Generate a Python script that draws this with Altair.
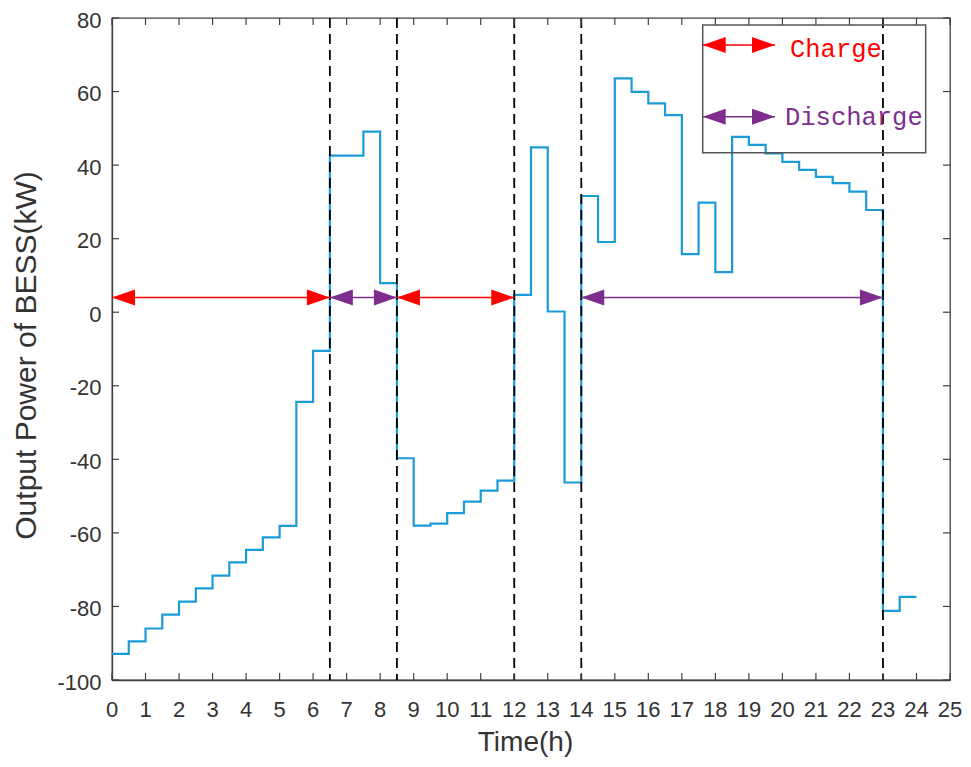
import altair as alt
import pandas as pd

# ---- data ----
step_time = [0, 0.5, 1, 1.5, 2, 2.5, 3, 3.5, 4, 4.5, 5, 5.5, 6, 6.5, 7, 7.5,
             8, 8.5, 9, 9.5, 10, 10.5, 11, 11.5, 12, 12.5, 13, 13.5, 14, 14.5,
             15, 15.5, 16, 16.5, 17, 17.5, 18, 18.5, 19, 19.5, 20, 20.5, 21,
             21.5, 22, 22.5, 23, 23.5, 24]
step_power = [-92.9, -89.5, -86.0, -82.2, -78.7, -75.1, -71.6, -68.0, -64.6,
              -61.2, -58.1, -24.4, -10.5, 42.6, 42.6, 49.1, 7.9, -39.7, -58.0,
              -57.5, -54.6, -51.5, -48.5, -45.8, 4.7, 44.8, 0.2, -46.3, 31.6,
              19.1, 63.6, 59.9, 56.8, 53.6, 15.8, 29.8, 10.9, 47.7, 45.5, 43.2,
              40.9, 38.7, 36.8, 35.1, 32.8, 27.8, -81.2, -77.4, -77.4]

boundary_times = [6.5, 8.5, 12, 14, 23]

period_start = [0, 6.5, 8.5, 14]
period_end = [6.5, 8.5, 12, 23]
period_kind = ["Charge", "Discharge", "Charge", "Discharge"]
arrow_level = 4

x_ticks = list(range(0, 26))
x_tick_labels = [str(v) for v in x_ticks]
y_ticks = [-100, -80, -60, -40, -20, 0, 20, 40, 60, 80]

kinds = ["Charge", "Discharge"]
kind_colors = ["#ff0000", "#7e2f8e"]

# ---- layout / style ----
W, H = 838, 662
PAD_L = 104
AX = "#404040"
LBL = "#333333"
LINE = "#1b9bd7"
TICK = 7
HEAD_R = "M0,0L-2,-0.7L-2,0.7Z"
HEAD_L = "M0,0L2,-0.7L2,0.7Z"
HEAD_SIZE = 529
MINUS_EXPR = "datum.value < 0 ? '-' + abs(datum.value) : '' + datum.value"

step_df = pd.DataFrame({"t": step_time, "p": step_power})
bound_df = pd.DataFrame({"b": boundary_times})
per_df = pd.DataFrame({"s": period_start, "e": period_end, "kind": period_kind,
                       "lvl": [arrow_level] * len(period_start)})
head_rows = []
for s, e, k in zip(period_start, period_end, period_kind):
    head_rows.append({"hx": s, "hy": arrow_level, "dir": "L", "kind": k})
    head_rows.append({"hx": e, "hy": arrow_level, "dir": "R", "kind": k})
head_df = pd.DataFrame(head_rows)
xt_df = pd.DataFrame({"v": x_ticks, "lab": x_tick_labels})
yt_df = pd.DataFrame({"v": y_ticks})
one = pd.DataFrame({"a": [0]})

xscale = alt.Scale(domain=[0, 25], nice=False, zero=False)
yscale = alt.Scale(domain=[-100, 80], nice=False, zero=False)
cscale = alt.Scale(domain=kinds, range=kind_colors)

line = alt.Chart(step_df).mark_line(
    interpolate="step-after", color=LINE, strokeWidth=2.2
).encode(
    x=alt.X("t:Q", scale=xscale, axis=alt.Axis(
        values=x_ticks, ticks=False, tickSize=0, grid=False, domainColor=AX,
        domainWidth=1.3, labels=False,
        title="Time(h)",
        titleFont="Liberation Sans", titleFontSize=28, titleFontWeight="normal",
        titleColor=LBL, titleX=W / 2 - 6, titleY=70, titleBaseline="alphabetic")),
    y=alt.Y("p:Q", scale=yscale, axis=alt.Axis(
        values=y_ticks, ticks=False, tickSize=0, grid=False, domainColor=AX,
        domainWidth=1.3, labelFont="Liberation Sans", labelFontSize=22,
        labelColor=LBL, labelPadding=11, labelOverlap=False, labelFlush=False,
        labelOffset=2, labelExpr=MINUS_EXPR,
        title="Output Power of BESS(kW)",
        titleFont="Liberation Sans", titleFontSize=30, titleFontWeight="normal",
        titleColor=LBL, titleX=-77, titleY=H / 2 + 6, titleBaseline="alphabetic")),
)

# x tick labels drawn as text so that every hour is shown
x_labels = alt.Chart(xt_df).mark_text(
    font="Liberation Sans", fontSize=22, color=LBL, align="center", baseline="top"
).encode(x=alt.X("v:Q", scale=xscale), y=alt.value(H + 20), text="lab:N")

dashed = alt.Chart(bound_df).mark_rule(
    color="black", strokeWidth=1.8, strokeDash=[10, 6]
).encode(x=alt.X("b:Q", scale=xscale), y=alt.value(0), y2=alt.value(H))

arrows = alt.Chart(per_df).mark_rule(strokeWidth=1.5).encode(
    x=alt.X("s:Q", scale=xscale), x2="e:Q",
    y=alt.Y("lvl:Q", scale=yscale),
    color=alt.Color("kind:N", scale=cscale, legend=None))

heads = alt.Chart(head_df).mark_point(
    filled=True, opacity=1, size=HEAD_SIZE, strokeWidth=0
).encode(
    x=alt.X("hx:Q", scale=xscale), y=alt.Y("hy:Q", scale=yscale),
    shape=alt.Shape("dir:N", scale=alt.Scale(domain=["L", "R"], range=[HEAD_L, HEAD_R]), legend=None),
    color=alt.Color("kind:N", scale=cscale, legend=None))

# inward ticks on all four sides
xt_bot = alt.Chart(xt_df).mark_rule(color=AX, strokeWidth=1.2).encode(
    x=alt.X("v:Q", scale=xscale), y=alt.value(H), y2=alt.value(H - TICK))
xt_top = alt.Chart(xt_df).mark_rule(color=AX, strokeWidth=1.2).encode(
    x=alt.X("v:Q", scale=xscale), y=alt.value(0), y2=alt.value(TICK))
yt_left = alt.Chart(yt_df).mark_rule(color=AX, strokeWidth=1.2).encode(
    y=alt.Y("v:Q", scale=yscale), x=alt.value(0), x2=alt.value(TICK))
yt_right = alt.Chart(yt_df).mark_rule(color=AX, strokeWidth=1.2).encode(
    y=alt.Y("v:Q", scale=yscale), x=alt.value(W), x2=alt.value(W - TICK))

# legend box (pixel positions inside the plot)
LX0, LX1, LY0, LY1 = 590.7, 813.7, 7, 134.7
AX0, AX1 = 590.7, 663
RY, PY = 27, 98.7
box = alt.Chart(one).mark_rect(fillOpacity=0, stroke="#555555", strokeWidth=1.5).encode(
    x=alt.value(LX0), x2=alt.value(LX1), y=alt.value(LY0), y2=alt.value(LY1))
leg_layers = [box]
for yy, col, label, tx, ty in [(RY, kind_colors[0], kinds[0], 678, 38.7),
                               (PY, kind_colors[1], kinds[1], 673, 107.3)]:
    leg_layers.append(alt.Chart(one).mark_rule(color=col, strokeWidth=1.5).encode(
        x=alt.value(AX0), x2=alt.value(AX1), y=alt.value(yy)))
    leg_layers.append(alt.Chart(one).mark_point(
        filled=True, opacity=1, size=HEAD_SIZE, strokeWidth=0, color=col,
        shape=HEAD_L).encode(x=alt.value(AX0), y=alt.value(yy)))
    leg_layers.append(alt.Chart(one).mark_point(
        filled=True, opacity=1, size=HEAD_SIZE, strokeWidth=0, color=col,
        shape=HEAD_R).encode(x=alt.value(AX1), y=alt.value(yy)))
    leg_layers.append(alt.Chart(one).mark_text(
        text=label, color=col, font="Liberation Mono", fontSize=25.5,
        align="left", baseline="alphabetic").encode(x=alt.value(tx), y=alt.value(ty)))

chart = alt.layer(
    line, dashed, arrows, heads, xt_bot, xt_top, yt_left, yt_right, x_labels,
    *leg_layers
).properties(
    width=W, height=H,
    autosize=alt.AutoSizeParams(type="none"),
    padding={"left": PAD_L, "top": 10, "right": 13, "bottom": 77},
    background="white",
).configure_view(stroke=AX, strokeWidth=1.3)

chart.save("out.html", embed_options={"renderer": "svg", "actions": False})
